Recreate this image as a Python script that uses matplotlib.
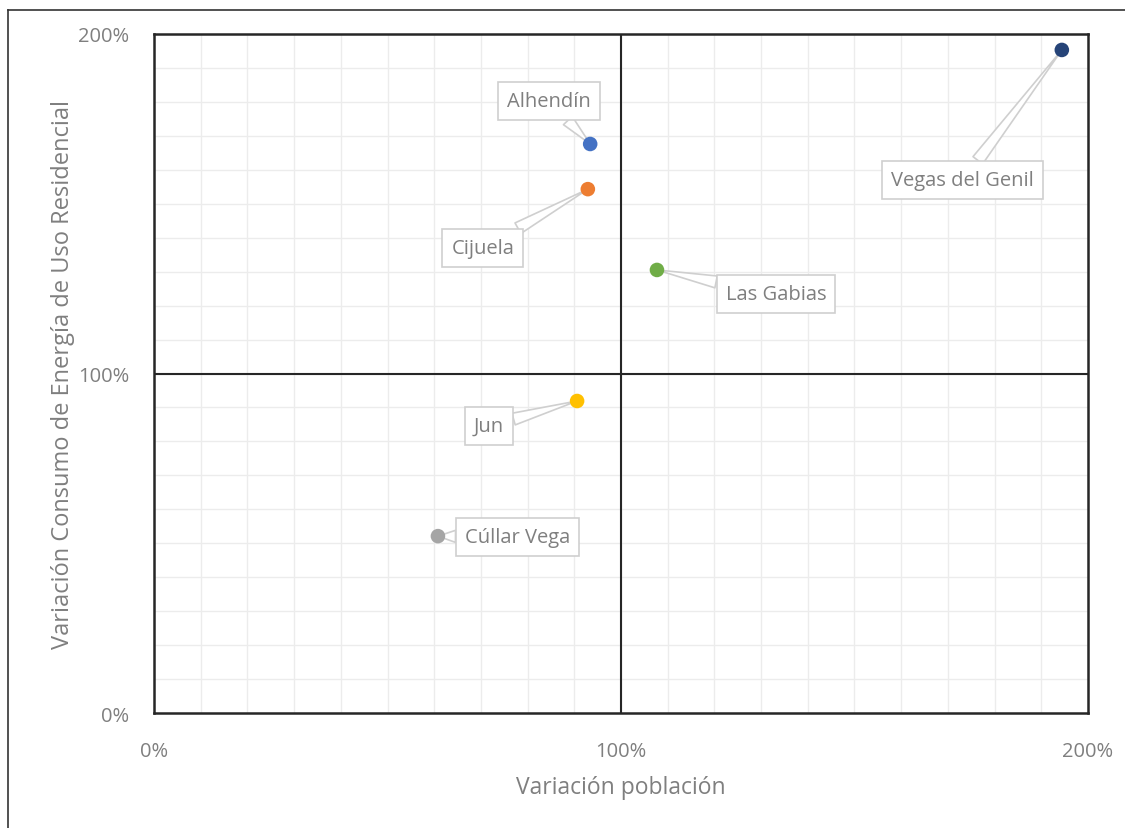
import matplotlib.pyplot as plt
import numpy as np
from matplotlib.lines import Line2D
from matplotlib.ticker import MultipleLocator, FuncFormatter

# Datos (variacion en %)
municipios = ['Alhendín', 'Cijuela', 'Las Gabias', 'Vegas del Genil', 'Jun', 'Cúllar Vega']
var_poblacion = [93.4, 92.9, 107.7, 194.4, 90.6, 60.8]
var_consumo = [167.6, 154.3, 130.5, 195.3, 91.9, 52.1]
colores = ['#4472C4', '#ED7D31', '#70AD47', '#264478', '#FFC000', '#A5A5A5']

# Posicion de las etiquetas (en unidades de los ejes)
pos_etiquetas = {
    'Alhendín': (84.6, 180.3),
    'Cijuela': (70.4, 137.0),
    'Las Gabias': (133.2, 123.4),
    'Vegas del Genil': (173.2, 157.0),
    'Jun': (71.7, 84.5),
    'Cúllar Vega': (77.9, 51.8),
}

gris = '#7f7f7f'
plt.rcParams['font.family'] = ['Open Sans', 'DejaVu Sans']

fig = plt.figure(figsize=(11.25, 8.29), dpi=100)
ax = fig.add_axes([0.1369, 0.1387, 0.8302, 0.8191])

ax.set_xlim(0, 200)
ax.set_ylim(0, 200)
ax.xaxis.set_major_locator(MultipleLocator(100))
ax.yaxis.set_major_locator(MultipleLocator(100))
ax.xaxis.set_minor_locator(MultipleLocator(10))
ax.yaxis.set_minor_locator(MultipleLocator(10))
fmt = FuncFormatter(lambda v, p: f'{v:.0f}%')
ax.xaxis.set_major_formatter(fmt)
ax.yaxis.set_major_formatter(fmt)

ax.grid(True, which='both', color='#ececec', linewidth=1)
ax.set_axisbelow(True)
ax.axvline(100, color='#262626', linewidth=1.5, zorder=1)
ax.axhline(100, color='#262626', linewidth=1.5, zorder=1)
for s in ax.spines.values():
    s.set_color('#262626')
    s.set_linewidth(1.8)

ax.tick_params(which='both', length=0, colors=gris, labelsize=14.5)
ax.tick_params(axis='x', pad=20)
ax.tick_params(axis='y', pad=18)

ax.scatter(var_poblacion, var_consumo, s=110, c=colores, zorder=4, linewidths=0)

for nombre, x, y in zip(municipios, var_poblacion, var_consumo):
    ax.annotate(nombre, xy=(x, y), xytext=pos_etiquetas[nombre],
                ha='center', va='center', fontsize=14.5, color=gris, zorder=3,
                bbox=dict(boxstyle='square,pad=0.45', fc='white', ec='#cfcfcf', lw=1.2),
                arrowprops=dict(arrowstyle='wedge,tail_width=0.6,shrink_factor=0.5',
                                fc='white', ec='#cfcfcf', lw=1.2,
                                shrinkA=0, shrinkB=0))

ax.set_xlabel('Variación población', fontsize=16.5, color=gris, labelpad=10)
ax.set_ylabel('Variación Consumo de Energía de Uso Residencial', fontsize=17,
              color=gris, labelpad=2)

# Marco exterior
fig.add_artist(Line2D([0.0071, 0.0071], [0, 0.9867], color='#333333', lw=1.2))
fig.add_artist(Line2D([0.0071, 1], [0.9867, 0.9867], color='#333333', lw=1.2))

plt.savefig('out.png', dpi=100)
